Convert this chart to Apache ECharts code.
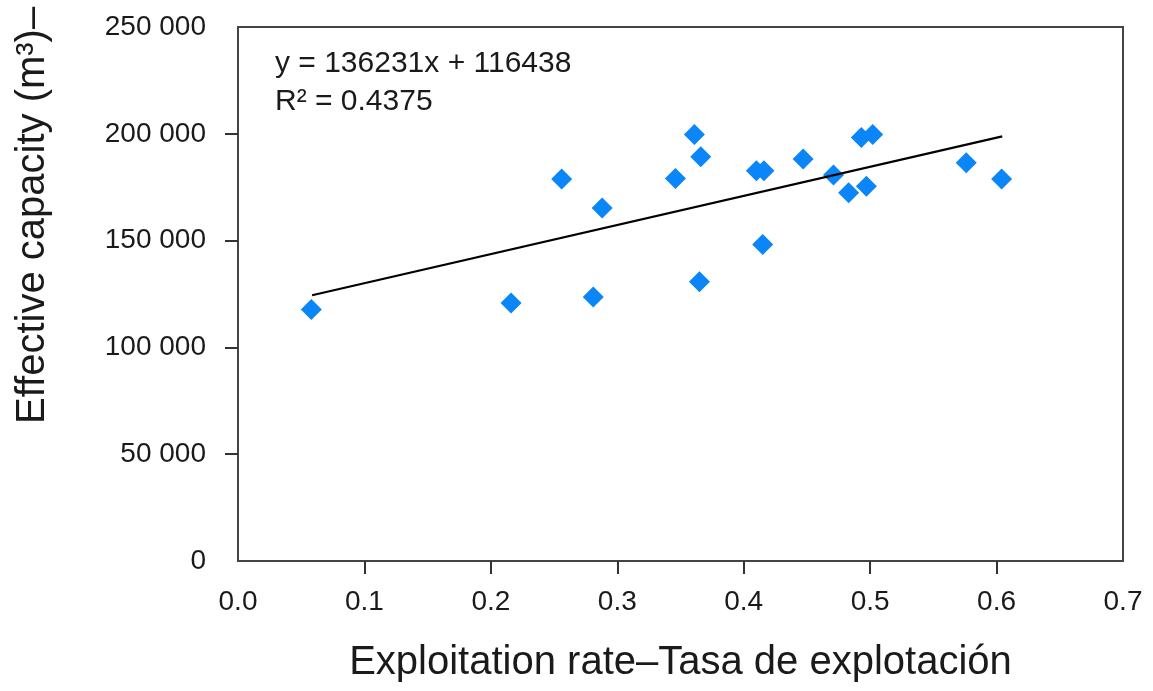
<!DOCTYPE html>
<html>
<head>
<meta charset="utf-8">
<script src="https://cdn.jsdelivr.net/npm/echarts@6/dist/echarts.min.js"></script>
<style>
  html, body { margin: 0; padding: 0; background: #fff; }
  #chart { width: 1153px; height: 691px; }
</style>
</head>
<body>
<div id="chart"></div>
<script>
// exploitation rate vs effective capacity
var rateX = [0.058, 0.216, 0.256, 0.281, 0.288, 0.346, 0.361, 0.365, 0.366, 0.410,
             0.415, 0.416, 0.447, 0.471, 0.483, 0.493, 0.497, 0.502, 0.576, 0.604];
var capY = [117700, 120800, 178800, 123600, 165300, 179100, 199700, 130700, 189200, 182700,
            148200, 182700, 188200, 180700, 172400, 198300, 175500, 199700, 186400, 178800];

// linear fit shown on the figure
var slope = 136231;
var intercept = 116438;
var r2 = 0.4375;
var trendX = [0.0586, 0.6045];

var xTicks = [0.1, 0.2, 0.3, 0.4, 0.5, 0.6];
var yTicks = [50000, 100000, 150000, 200000];

var points = rateX.map(function (x, i) { return [x, capY[i]]; });
var trend = trendX.map(function (x) { return [x, slope * x + intercept]; });

var font = 'Liberation Sans, Arial, sans-serif';
var chart = echarts.init(document.getElementById('chart'));

var option = {
  backgroundColor: '#fff',
  animation: false,
  grid: {
    left: 238,
    top: 27,
    right: 30,
    bottom: 130,
    show: true,
    borderColor: '#444',
    borderWidth: 2
  },
  xAxis: {
    type: 'value',
    min: 0,
    max: 0.7,
    interval: 0.1,
    name: 'Exploitation rate–Tasa de explotación',
    nameLocation: 'middle',
    nameGap: 82,
    nameTextStyle: { color: '#1a1a1a', fontSize: 40, fontFamily: font },
    axisLine: { show: true, lineStyle: { color: '#444', width: 2 } },
    axisTick: { show: true, inside: false, length: 13, customValues: xTicks, lineStyle: { color: '#333', width: 2 } },
    splitLine: { show: false },
    axisLabel: {
      margin: 27,
      color: '#1a1a1a',
      fontSize: 28,
      fontFamily: font,
      formatter: function (v) { return v.toFixed(1); }
    }
  },
  yAxis: {
    type: 'value',
    min: 0,
    max: 250000,
    interval: 50000,
    axisLine: { show: true, lineStyle: { color: '#444', width: 2 } },
    axisTick: { show: true, inside: false, length: 13, customValues: yTicks, lineStyle: { color: '#333', width: 2 } },
    splitLine: { show: false },
    axisLabel: {
      margin: 32,
      color: '#1a1a1a',
      fontSize: 28,
      fontFamily: font,
      formatter: function (v) {
        return String(v).replace(/\B(?=(\d{3})+(?!\d))/g, ' ');
      }
    }
  },
  graphic: [
    {
      type: 'text',
      x: 33,
      y: 424,
      rotation: Math.PI / 2,
      style: {
        text: 'Effective capacity (m³)–',
        fill: '#1a1a1a',
        font: '40px ' + font,
        textAlign: 'left',
        textVerticalAlign: 'middle'
      }
    },
    {
      type: 'text',
      x: 275,
      y: 64,
      style: {
        text: 'y = ' + slope + 'x + ' + intercept,
        fill: '#1a1a1a',
        font: '30px ' + font,
        textAlign: 'left',
        textVerticalAlign: 'middle'
      }
    },
    {
      type: 'text',
      x: 275,
      y: 102,
      style: {
        text: 'R² = ' + r2,
        fill: '#1a1a1a',
        font: '30px ' + font,
        textAlign: 'left',
        textVerticalAlign: 'middle'
      }
    }
  ],
  series: [
    {
      type: 'line',
      name: 'trend',
      data: trend,
      symbol: 'none',
      lineStyle: { color: '#000', width: 2.2 },
      z: 3
    },
    {
      type: 'scatter',
      name: 'capacity',
      data: points,
      symbol: 'diamond',
      symbolSize: 21,
      itemStyle: { color: '#0a86f8', opacity: 1 },
      z: 2
    }
  ]
};

chart.setOption(option);
</script>
</body>
</html>
